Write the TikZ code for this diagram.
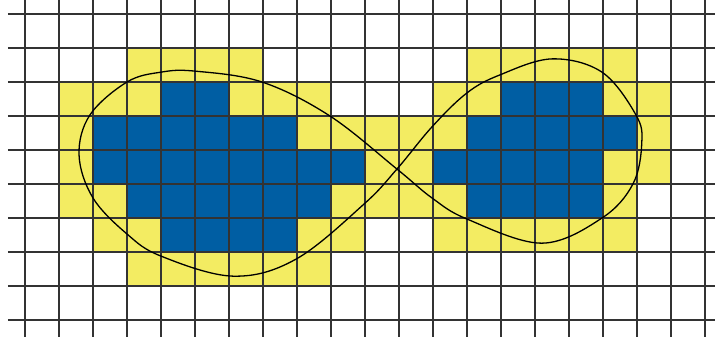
\documentclass[tikz,border=0pt]{standalone}
\usepackage{xcolor}
\usepackage{tikz}
\definecolor{cellyellow}{RGB}{243,236,98}
\definecolor{cellblue}{RGB}{0,94,163}
\tikzset{
  gridline/.style={draw=black!80, line width=1.2pt},
  loopcurve/.style={draw=black, line width=1.3pt}
}

\begin{document}
\begin{tikzpicture}[x=34pt,y=-34pt]
\useasboundingbox (-0.735,-0.412) rectangle (20.294,9.647);
% outer cells (row/first/last column)
\foreach \r/\a/\b in {1/3/6, 1/13/17, 2/1/8, 2/12/18, 3/1/18, 4/1/18, 5/1/17, 6/2/9, 6/12/17, 7/3/8}
  \fill[cellyellow] (\a,\r) rectangle (\b+1,\r+1);
% inner cells
\foreach \r/\a/\b in {2/4/5, 2/14/16, 3/2/7, 3/13/17, 4/2/9, 4/12/16, 5/3/8, 5/13/16, 6/4/7}
  \fill[cellblue] (\a,\r) rectangle (\b+1,\r+1);
% grid
\foreach \r in {0,...,9}
  \draw[gridline] (-0.5,\r) -- (20.294,\r);
\foreach \c in {0,...,20}
  \draw[gridline] (\c,-0.412) -- (\c,9.5);
% figure eight
\draw[loopcurve] plot[smooth cycle, tension=0.6] coordinates {
  (5.0,1.68) (6.97,2.0) (8.97,3.0) (10.94,4.56) (11.97,5.41)
  (13.0,6.03) (15.2,6.74) (16.97,6.0) (17.88,5.0) (18.14,3.8) (17.97,2.97)
  (16.97,1.71) (15.5,1.32) (13.97,1.79) (13.0,2.32) (11.97,3.32) (10.94,4.56)
  (9.97,5.59) (7.97,7.21) (6.12,7.71) (4.0,7.12) (3.0,6.47) (2.0,5.41)
  (1.59,4.15) (1.91,2.97) (3.0,2.0) (4.0,1.71)};
\end{tikzpicture}
\end{document}
